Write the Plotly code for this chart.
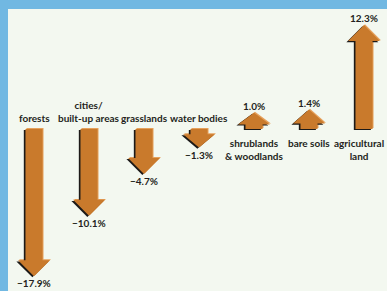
import plotly.graph_objects as go

categories = ["forests", "cities/<br>built-up areas", "grasslands", "water bodies",
              "shrublands<br>& woodlands", "bare soils", "agricultural<br>land"]
changes = [-17.9, -10.1, -4.7, -1.3, 1.0, 1.4, 12.3]
value_labels = ["−17.9%", "−10.1%", "−4.7%", "−1.3%", "1.0%", "1.4%", "12.3%"]

# style constants
ORANGE = "#c97a2c"
SHADOW = "#1c1a18"
HILITE = "#e6a15c"
TEXT = "#231f20"
BG = "#f3f8f0"
BORDER = "#71b8e2"
FONT = "Lato, DejaVu Sans Condensed, sans-serif"

PAD = 1.1          # extra arrow length (in % units)
HEAD_LEN = 2.06    # arrow head length (% units)
SHAFT_W = 0.31     # shaft width (x units)
HEAD_W = 0.58      # head width (x units)
XR = [-0.4727, 6.418]
YR = [-20.9, 15.48]

fig = go.Figure()


def arrow_poly(i, v, dx=0.0, dy=0.0):
    s = 1 if v > 0 else -1
    L = abs(v) + PAD
    h = min(HEAD_LEN, 0.72 * L)
    tip = s * L
    neck = s * (L - h)
    xs = [i - SHAFT_W / 2, i - SHAFT_W / 2, i - HEAD_W / 2, i, i + HEAD_W / 2,
          i + SHAFT_W / 2, i + SHAFT_W / 2, i - SHAFT_W / 2]
    ys = [0, neck, neck, tip, neck, neck, 0, 0]
    return [x + dx for x in xs], [y + dy for y in ys]


for i, v in enumerate(changes):
    for (dx, dy, col) in [(0.018, 0.12, HILITE), (-0.03, -0.14, SHADOW), (0, 0, ORANGE)]:
        xs, ys = arrow_poly(i, v, dx, dy)
        fig.add_trace(go.Scatter(x=xs, y=ys, mode="lines", fill="toself",
                                 fillcolor=col, line=dict(width=0, color=col),
                                 hoverinfo="skip", showlegend=False))

font = dict(family=FONT, size=10, color=TEXT, weight="bold")
last = len(categories) - 1
for i, (c, v, lab) in enumerate(zip(categories, changes, value_labels)):
    s = 1 if v > 0 else -1
    tip = s * (abs(v) + PAD)
    if v < 0:
        fig.add_annotation(x=i, y=0, text=c, showarrow=False, yanchor="bottom",
                           yshift=3, font=font, align="center")
        fig.add_annotation(x=i, y=tip, text=lab, showarrow=False, yanchor="top",
                           yshift=1, font=font)
    else:
        if i == last:
            # keep the rightmost label inside the frame
            fig.add_annotation(x=1, xref="paper", xanchor="right", xshift=-1,
                               y=0, text=c, showarrow=False, yanchor="top",
                               yshift=-6, font=font, align="center")
        else:
            fig.add_annotation(x=i, y=0, text=c, showarrow=False, yanchor="top",
                               yshift=-6, font=font, align="center")
        fig.add_annotation(x=i, y=tip, text=lab, showarrow=False, yanchor="bottom",
                           yshift=-1, font=font)

fig.update_layout(
    width=387, height=291,
    margin=dict(l=8, r=0, t=9, b=0),
    paper_bgcolor=BORDER, plot_bgcolor=BG,
    xaxis=dict(range=XR, visible=False, fixedrange=True),
    yaxis=dict(range=YR, visible=False, fixedrange=True),
    showlegend=False,
)

fig.write_html("out.html", config={"displayModeBar": False},
               post_script="document.body.style.margin='0';")
